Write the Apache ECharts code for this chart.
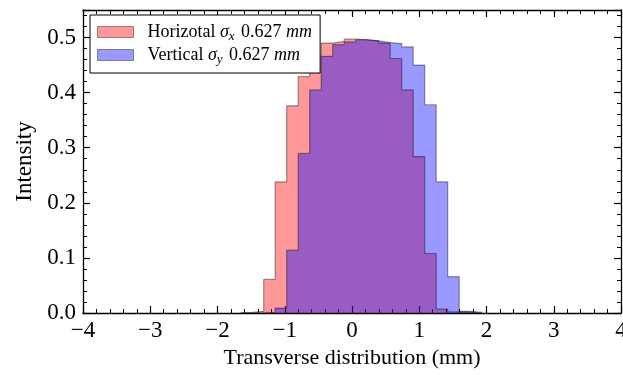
<!DOCTYPE html>
<html>
<head>
<meta charset="utf-8">
<script src="https://cdn.jsdelivr.net/npm/echarts@6/dist/echarts.min.js"></script>
<style>
  html, body { margin: 0; padding: 0; background: #fff; }
  #chart { width: 623px; height: 375px; }
</style>
</head>
<body>
<div id="chart"></div>
<script>
// bin edges (mm), shared by both histograms
var binEdges = [-1.655, -1.484, -1.313, -1.142, -0.971, -0.800, -0.629, -0.458, -0.287, -0.116,
    0.055, 0.226, 0.397, 0.568, 0.739, 0.910, 1.081, 1.252, 1.423, 1.594, 1.765, 1.936];
// heights of each bin
var horizontal = [0.001, 0.003, 0.061, 0.238, 0.376, 0.429, 0.469, 0.490, 0.493, 0.497,
    0.496, 0.494, 0.490, 0.462, 0.405, 0.284, 0.108, 0.007, 0.002, 0.001, 0.000];
var vertical = [0.000, 0.000, 0.001, 0.009, 0.114, 0.290, 0.405, 0.466, 0.487, 0.492,
    0.496, 0.494, 0.491, 0.489, 0.483, 0.450, 0.378, 0.238, 0.066, 0.003, 0.001];
var xTicks = [-4, -3, -2, -1, 0, 1, 2, 3, 4];
var yTicks = [0.0, 0.1, 0.2, 0.3, 0.4, 0.5];

var serif = '"Liberation Serif", "DejaVu Serif", serif';

// turn bins into step points: (left edge, 0), (edge_k, v_k) ..., (last edge, 0)
function stepPoints(edges, vals) {
    var pts = [[edges[0], 0]];
    for (var k = 0; k < vals.length; k++) {
        pts.push([edges[k], vals[k]]);
    }
    pts.push([edges[vals.length], 0]);
    return pts;
}

function minus(v) {
    return v < 0 ? '\u2212' + Math.abs(v) : String(v);
}

var tickStyle = { inside: true, length: 7, lineStyle: { color: '#000', width: 1.2 } };
var minorStyle = { show: true, length: 4, lineStyle: { color: '#000', width: 1 } };
var lineAxis = { show: true, onZero: false, lineStyle: { color: '#000', width: 1.3 } };

var redFill = 'rgba(255,0,0,0.4)',
    blueFill = 'rgba(0,0,255,0.4)',
    edge = 'rgba(0,0,0,0.4)';

var option = {
    animation: false,
    backgroundColor: '#fff',
    grid: { left: 83, right: 2, top: 10, bottom: 62, outerBoundsMode: 'none', containLabel: false },
    legend: {
        left: 90,
        top: 15,
        orient: 'vertical',
        backgroundColor: '#fff',
        borderColor: '#000',
        borderWidth: 1,
        borderRadius: 0,
        padding: [8, 8, 7, 7],
        itemWidth: 36,
        itemHeight: 11,
        itemGap: 3,
        icon: 'rect',
        itemStyle: { borderColor: edge, borderWidth: 1 },
        data: [
            { name: 'Horizotal', itemStyle: { color: redFill } },
            { name: 'Vertical', itemStyle: { color: blueFill } }
        ],
        textStyle: {
            fontFamily: serif,
            fontSize: 18,
            color: '#000',
            padding: [0, 0, 0, 9],
            rich: {
                t: { fontFamily: serif, fontSize: 18, color: '#000', lineHeight: 22 },
                m: { fontFamily: serif, fontSize: 18, fontStyle: 'italic', color: '#000', lineHeight: 22 },
                s: { fontFamily: serif, fontSize: 13, fontStyle: 'italic', color: '#000', lineHeight: 22, verticalAlign: 'bottom', padding: [7, 2, 0, 0] }
            }
        },
        formatter: function (name) {
            var sub = name === 'Horizotal' ? 'x' : 'y';
            return '{t|' + name + ' }{m|\u03c3}{s|' + sub + '}{t| 0.627 }{m|mm}';
        }
    },
    xAxis: [{
        type: 'value',
        min: -4,
        max: 4,
        interval: 1,
        position: 'bottom',
        name: 'Transverse distribution (mm)',
        nameLocation: 'middle',
        nameGap: 31,
        nameTextStyle: { fontFamily: serif, fontSize: 22, color: '#000' },
        axisLine: lineAxis,
        axisTick: tickStyle,
        minorTick: minorStyle,
        splitLine: { show: false },
        axisLabel: {
            fontFamily: serif, fontSize: 23, color: '#000', margin: 6,
            formatter: function (v) { return xTicks.indexOf(v) >= 0 ? minus(v) : ''; }
        }
    }, {
        type: 'value',
        min: -4,
        max: 4,
        interval: 1,
        position: 'top',
        axisLine: lineAxis,
        axisTick: tickStyle,
        minorTick: minorStyle,
        splitLine: { show: false },
        axisLabel: { show: false }
    }],
    yAxis: [{
        type: 'value',
        min: 0,
        max: 0.55,
        interval: 0.1,
        position: 'left',
        name: 'Intensity',
        nameLocation: 'middle',
        nameGap: 47,
        nameTextStyle: { fontFamily: serif, fontSize: 23, color: '#000' },
        axisLine: lineAxis,
        axisTick: tickStyle,
        minorTick: minorStyle,
        splitLine: { show: false },
        axisLabel: {
            fontFamily: serif, fontSize: 23, color: '#000', margin: 7, showMaxLabel: false,
            formatter: function (v) {
                for (var i = 0; i < yTicks.length; i++) {
                    if (Math.abs(yTicks[i] - v) < 1e-9) return yTicks[i].toFixed(1);
                }
                return '';
            }
        }
    }, {
        type: 'value',
        min: 0,
        max: 0.55,
        interval: 0.1,
        position: 'right',
        axisLine: lineAxis,
        axisTick: tickStyle,
        minorTick: minorStyle,
        splitLine: { show: false },
        axisLabel: { show: false }
    }],
    series: [{
        name: 'Horizotal',
        type: 'line',
        step: 'end',
        showSymbol: false,
        symbol: 'none',
        itemStyle: { color: redFill },
        lineStyle: { color: edge, width: 1.2 },
        areaStyle: { color: redFill, opacity: 1 },
        data: stepPoints(binEdges, horizontal)
    }, {
        name: 'Vertical',
        type: 'line',
        step: 'end',
        showSymbol: false,
        symbol: 'none',
        itemStyle: { color: blueFill },
        lineStyle: { color: edge, width: 1.2 },
        areaStyle: { color: blueFill, opacity: 1 },
        data: stepPoints(binEdges, vertical)
    }]
};

var chart = echarts.init(document.getElementById('chart'));
chart.setOption(option);
</script>
</body>
</html>
